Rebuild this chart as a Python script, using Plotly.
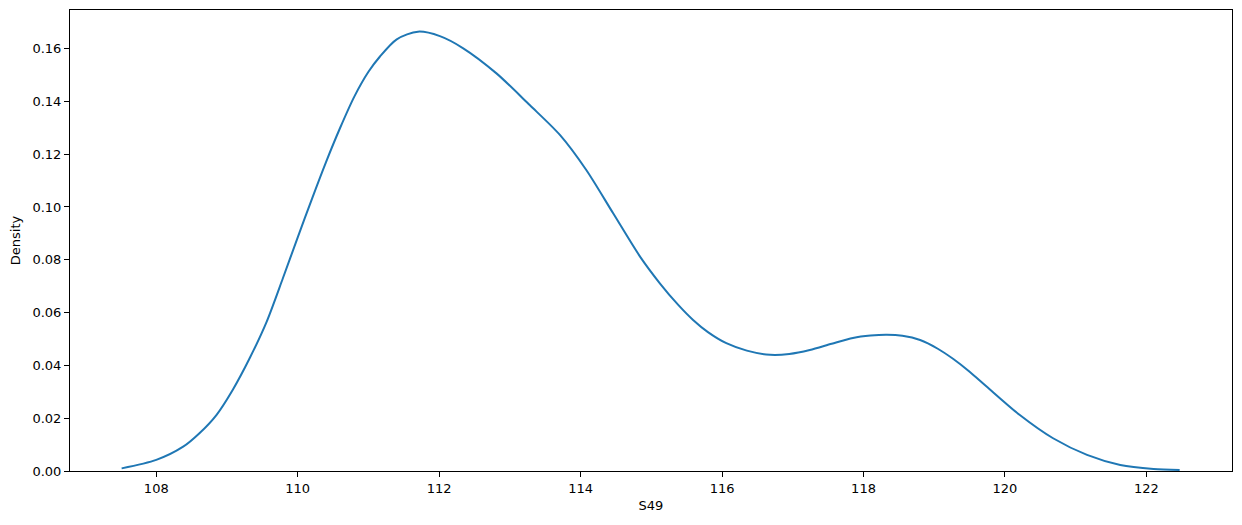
import plotly.graph_objects as go

# KDE curve of S49
s49 = [107.51, 108.00, 108.38, 108.61, 108.85, 109.08, 109.32, 109.56, 109.79, 110.00,
       110.20, 110.40, 110.60, 110.80, 111.00, 111.16, 111.40, 111.70, 112.01, 112.34,
       112.81, 113.28, 113.71, 114.08, 114.46, 114.84, 115.12, 115.38, 115.59, 115.80,
       116.06, 116.35, 116.68, 116.95, 117.24, 117.55, 117.85, 118.10, 118.33, 118.55,
       118.80, 119.05, 119.27, 119.50, 119.74, 120.21, 120.68, 121.16, 121.63, 122.10,
       122.47]
density = [0.0010, 0.0042, 0.0092, 0.0143, 0.0212, 0.0307, 0.0427, 0.0565, 0.0730, 0.0885,
           0.1030, 0.1170, 0.1300, 0.1418, 0.1512, 0.1569, 0.1635, 0.1664, 0.1647, 0.1601,
           0.1506, 0.1386, 0.1272, 0.1140, 0.0976, 0.0812, 0.0711, 0.0629, 0.0572, 0.0526,
           0.0484, 0.0456, 0.0440, 0.0443, 0.0458, 0.0482, 0.0504, 0.0513, 0.0516, 0.0512,
           0.0496, 0.0463, 0.0424, 0.0376, 0.0320, 0.0212, 0.0124, 0.0061, 0.0023, 0.0008,
           0.0004]

x_ticks = [108, 110, 112, 114, 116, 118, 120, 122]
y_ticks = [0.00, 0.02, 0.04, 0.06, 0.08, 0.10, 0.12, 0.14, 0.16]

fig = go.Figure(
    go.Scatter(
        x=s49,
        y=density,
        mode="lines",
        line=dict(color="#1f77b4", width=2, shape="spline", smoothing=0.8),
        showlegend=False,
    )
)

axis_style = dict(
    showline=True,
    linecolor="black",
    linewidth=1,
    mirror=True,
    ticks="outside",
    ticklen=5,
    tickcolor="black",
    showgrid=False,
    zeroline=False,
    tickfont=dict(size=13),
)

fig.update_xaxes(
    title=dict(text="S49", standoff=6, font=dict(size=13)),
    range=[106.78, 123.21],
    tickvals=x_ticks,
    **axis_style,
)
fig.update_yaxes(
    title=dict(text="Density", standoff=8, font=dict(size=13)),
    range=[0, 0.1746],
    tickvals=y_ticks,
    tickformat=".2f",
    **axis_style,
)
# the page body adds an 8px offset, so margins are shifted to keep the
# plot box at the same place as in the reference
fig.update_layout(
    width=1242,
    height=525,
    plot_bgcolor="white",
    paper_bgcolor="white",
    font=dict(family="DejaVu Sans", size=13, color="black"),
    margin=dict(l=62, r=18, t=2, b=62, autoexpand=False),
)

fig.write_html("out.html")
